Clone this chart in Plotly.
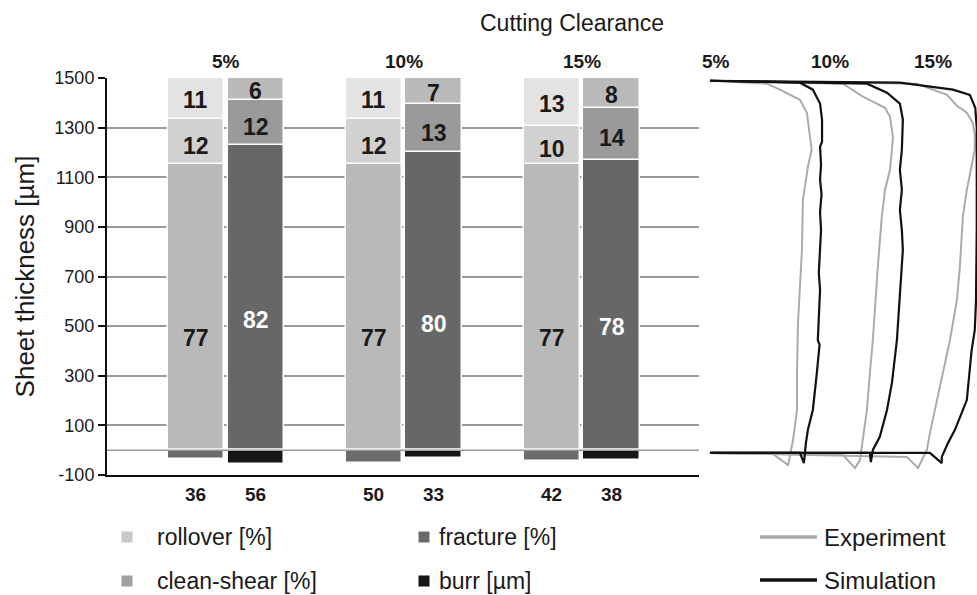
import plotly.graph_objects as go

# ---- Edge-zone fractions (% of sheet thickness) and burr height (µm) ----
clearances = ["5%", "10%", "15%"]
sheet_thickness = 1500  # µm

exp_fracture = [77, 77, 77]
exp_clean_shear = [12, 12, 10]
exp_rollover = [11, 11, 13]
exp_burr = [36, 50, 42]

sim_fracture = [82, 80, 78]
sim_clean_shear = [12, 13, 14]
sim_rollover = [6, 7, 8]
sim_burr = [56, 33, 38]

y_ticks = [-100, 100, 300, 500, 700, 900, 1100, 1300, 1500]

# ---- Cut-edge profiles (lateral position µm, height µm) ----
exp_5_x = [0, 230, 282, 323, 363, 391, 403, 410, 395, 375, 371, 359, 355, 351, 351, 335, 315, 270, 255, 0]
exp_5_y = [1489, 1477, 1453, 1432, 1412, 1360, 1263, 1211, 1142, 1009, 807, 606, 513, 311, 162, 41, -60, -27, -15, -11]

exp_10_x = [0, 536, 617, 657, 706, 726, 738, 734, 726, 706, 693, 677, 669, 657, 645, 633, 605, 585, 536, 0]
exp_10_y = [1489, 1477, 1425, 1404, 1380, 1344, 1263, 1211, 1130, 1049, 940, 739, 606, 444, 311, 162, -40, -72, -19, -11]

exp_15_x = [0, 835, 956, 996, 1036, 1060, 1068, 1068, 1036, 1020, 1008, 996, 968, 939, 907, 887, 875, 839, 794, 0]
exp_15_y = [1489, 1477, 1432, 1388, 1360, 1319, 1271, 1211, 1049, 940, 739, 606, 444, 311, 162, 69, 1, -72, -27, -11]

sim_5_x = [0, 363, 415, 444, 452, 452, 444, 448, 444, 450, 444, 448, 439, 444, 435, 442, 431, 415, 395, 387, 379, 363, 0]
sim_5_y = [1489, 1481, 1453, 1397, 1332, 1243, 1223, 1150, 1090, 1030, 960, 887, 715, 646, 444, 424, 311, 162, 82, 29, -52, -11, -11]

sim_10_x = [0, 633, 714, 766, 778, 774, 766, 774, 766, 774, 778, 766, 754, 734, 714, 685, 657, 649, 645, 0]
sim_10_y = [1489, 1477, 1441, 1397, 1332, 1211, 1130, 1049, 968, 887, 807, 606, 444, 271, 162, 54, 1, -48, -11, -11]

sim_15_x = [0, 766, 980, 1048, 1070, 1076, 1076, 1073, 1068, 1055, 1036, 1008, 988, 960, 935, 935, 887, 0]
sim_15_y = [1489, 1481, 1453, 1432, 1380, 1300, 900, 600, 485, 400, 202, 134, 82, 29, -27, -52, -11, -11]

# ---- Styling ----
FONT = "Liberation Sans, Arial, Helvetica, sans-serif"
TXT = "#1a1a1a"
exp_colors = {"fracture": "#b9b9b9", "clean": "#d0d1d0", "rollover": "#e3e3e3", "burr": "#6b6b6b"}
sim_colors = {"fracture": "#676767", "clean": "#9a9a9a", "rollover": "#bababa", "burr": "#161616"}
legend_colors = {"rollover": "#c8c8c8", "clean": "#a0a0a0", "fracture": "#6a6a6a", "burr": "#151515"}
EXP_LINE = "#ababab"
SIM_LINE = "#111111"

W, H = 977, 595
ML, MR, MT, MB = 107, 0, 78, 120
plot_w = W - ML - MR
plot_h = H - MT - MB


def px_x(px):
    return (px - ML) / plot_w


def px_y(py):
    return (H - MB - py) / plot_h


groups = list(range(len(clearances)))
half = 0.1685
bar_w = 0.315
exp_pos = [g - half for g in groups]
sim_pos = [g + half for g in groups]


def to_um(pcts):
    return [p * sheet_thickness / 100 for p in pcts]


fig = go.Figure()

bar_line = dict(color="white", width=1.5)
for pos, frac, clean, roll, burr, cols in [
    (exp_pos, exp_fracture, exp_clean_shear, exp_rollover, exp_burr, exp_colors),
    (sim_pos, sim_fracture, sim_clean_shear, sim_rollover, sim_burr, sim_colors),
]:
    for vals, key in [(to_um(frac), "fracture"), (to_um(clean), "clean"),
                      (to_um(roll), "rollover"), ([-b for b in burr], "burr")]:
        fig.add_trace(go.Bar(
            x=pos, y=vals, width=bar_w,
            marker=dict(color=cols[key], line=bar_line),
            showlegend=False, hoverinfo="skip",
        ))

annotations = []


def note(**kw):
    kw.setdefault("showarrow", False)
    kw.setdefault("xanchor", "center")
    kw.setdefault("yanchor", "middle")
    annotations.append(kw)


# segment labels
def seg_labels(pos, frac, clean, roll, frac_pos, frac_color):
    for i, x in enumerate(pos):
        f_um, c_um, r_um = to_um([frac[i], clean[i], roll[i]])
        items = [
            (f_um * frac_pos, frac[i], frac_color),
            (f_um + c_um / 2 - 18, clean[i], TXT),
            (f_um + c_um + r_um / 2 - 8, roll[i], TXT),
        ]
        for yv, v, col in items:
            note(x=x, y=yv, xref="x", yref="y", text=f"<b>{v}</b>",
                 font=dict(family=FONT, size=23, color=col))


seg_labels(exp_pos, exp_fracture, exp_clean_shear, exp_rollover, 0.39, TXT)
seg_labels(sim_pos, sim_fracture, sim_clean_shear, sim_rollover, 0.425, "white")

# cut-edge profile curves
for xs, ys in [(exp_5_x, exp_5_y), (exp_10_x, exp_10_y), (exp_15_x, exp_15_y)]:
    fig.add_trace(go.Scatter(x=xs, y=ys, xaxis="x2", yaxis="y2", mode="lines",
                             line=dict(color=EXP_LINE, width=2), showlegend=False, hoverinfo="skip"))
for xs, ys in [(sim_5_x, sim_5_y), (sim_10_x, sim_10_y), (sim_15_x, sim_15_y)]:
    fig.add_trace(go.Scatter(x=xs, y=ys, xaxis="x2", yaxis="y2", mode="lines",
                             line=dict(color=SIM_LINE, width=2.2), showlegend=False, hoverinfo="skip"))

# clearance headers
for g, lab in zip(groups, clearances):
    note(x=g, y=px_y(61), xref="x", yref="paper", text=f"<b>{lab}</b>",
         font=dict(family=FONT, size=19, color=TXT))
for xv, lab in zip([24, 484, 899], clearances):
    note(x=xv, y=px_y(61), xref="x2", yref="paper", text=f"<b>{lab}</b>",
         font=dict(family=FONT, size=19, color=TXT))
note(x=px_x(572), y=px_y(23), xref="paper", yref="paper", text="Cutting Clearance",
     font=dict(family=FONT, size=23, color=TXT))

# legend
shapes = []
legend_items = [
    ("rollover [%]", legend_colors["rollover"], 127, 537, 155),
    ("clean-shear [%]", legend_colors["clean"], 127, 581, 155),
    ("fracture [%]", legend_colors["fracture"], 424, 537, 437),
    ("burr [µm]", legend_colors["burr"], 424, 581, 437),
]
for text, col, sx, sy, tx in legend_items:
    shapes.append(dict(type="rect", xref="paper", yref="paper", xsizemode="pixel", ysizemode="pixel",
                       xanchor=px_x(sx), yanchor=px_y(sy), x0=-5.5, x1=5.5, y0=-5.5, y1=5.5,
                       fillcolor=col, line=dict(width=0)))
    note(x=px_x(tx), y=px_y(sy), xref="paper", yref="paper", text=text, xanchor="left",
         font=dict(family=FONT, size=23, color=TXT))
for text, col, sy in [("Experiment", EXP_LINE, 537), ("Simulation", SIM_LINE, 580)]:
    shapes.append(dict(type="line", xref="paper", yref="paper", x0=px_x(760), x1=px_x(817),
                       y0=px_y(sy), y1=px_y(sy), line=dict(color=col, width=3.5)))
    note(x=px_x(822), y=px_y(sy), xref="paper", yref="paper", text=text, xanchor="left",
         font=dict(family=FONT, size=24, color=TXT))

# zero reference line over the bars
shapes.append(dict(type="line", xref="x domain", yref="y", x0=0, x1=1, y0=0, y1=0,
                   line=dict(color="#9a9a9a", width=1.5), layer="above"))

fig.update_layout(
    width=W, height=H,
    margin=dict(l=ML, r=MR, t=MT, b=MB),
    paper_bgcolor="white", plot_bgcolor="white",
    barmode="relative", bargap=0,
    font=dict(family=FONT, color=TXT),
    showlegend=False,
    xaxis=dict(domain=[0, px_x(699)], range=[-0.666, 2.66], showgrid=False, zeroline=False,
               showline=True, linecolor="#111111", linewidth=2,
               tickmode="array", tickvals=exp_pos + sim_pos,
               ticktext=[f"<b>{b}</b>" for b in exp_burr + sim_burr],
               ticks="", ticklabelstandoff=1,
               tickfont=dict(family=FONT, size=19, color=TXT), fixedrange=True),
    yaxis=dict(range=[-100, 1500], tickmode="array", tickvals=y_ticks,
               ticktext=[str(t) for t in y_ticks],
               showgrid=True, gridcolor="#9a9a9a", gridwidth=1.5, zeroline=False,
               showline=True, linecolor="#111111", linewidth=2,
               ticks="outside", ticklen=7, tickcolor="#111111", tickwidth=1.5,
               tickfont=dict(family=FONT, size=18, color=TXT),
               title=dict(text="Sheet thickness [µm]", font=dict(family=FONT, size=26, color=TXT), standoff=12),
               fixedrange=True),
    xaxis2=dict(domain=[px_x(705), 1], anchor="y2", range=[-20, 1077], visible=False, fixedrange=True),
    yaxis2=dict(domain=[0, 1], anchor="x2", range=[-100, 1500], visible=False, fixedrange=True),
    annotations=annotations,
    shapes=shapes,
)

fig.write_html("out.html")
